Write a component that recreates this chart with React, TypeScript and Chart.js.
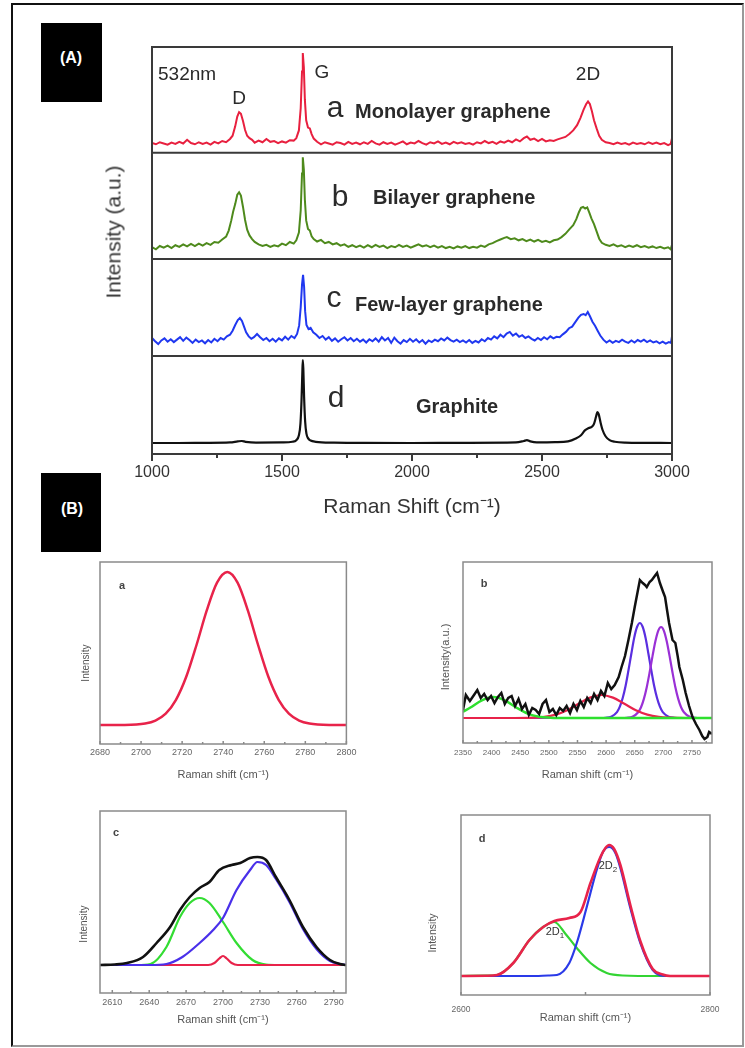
import React, { useEffect, useRef } from "react";
import { Chart, registerables } from "chart.js";
Chart.register(...registerables);

const FONT = '"Liberation Sans", Arial, Helvetica, sans-serif';
Chart.defaults.font.family = FONT;

type Pt = [number, number];

// ---------------- Panel (A): stacked Raman spectra ----------------
const A_MAJOR_TICKS = [1000, 1500, 2000, 2500, 3000];
const A_MINOR_TICKS = [1250, 1750, 2250, 2750];
const A_SEPARATORS = [24.1, 47.9, 74];
const A_OFFSETS = [74, 47.9, 24.1, 0]; // a, b, c, d baselines

const specMonolayer: Pt[] = [
  [1000, 2.4], [1015, 2.1], [1030, 2.6], [1045, 2.3], [1060, 2.0], [1075, 2.5], [1090, 2.2], [1105, 2.7], [1120, 2.3], [1135, 3.2],
  [1150, 2.4], [1165, 2.1], [1180, 2.6], [1195, 2.2], [1210, 2.5], [1225, 2.0], [1240, 2.7], [1255, 2.3], [1270, 2.9], [1285, 2.6],
  [1300, 3.4], [1310, 4.2], [1320, 6.5], [1328, 8.9], [1335, 10.0], [1342, 9.6], [1350, 7.8], [1358, 5.6], [1366, 4.2], [1375, 3.6],
  [1385, 3.2], [1395, 2.5], [1410, 3.0], [1425, 2.6], [1440, 3.4], [1455, 2.7], [1470, 2.9], [1485, 2.4], [1500, 2.8], [1515, 2.5],
  [1530, 3.1], [1545, 3.0], [1555, 3.6], [1565, 5.5], [1572, 11.0], [1577, 20.0], [1580, 24.5], [1584, 21.0], [1588, 13.0], [1593, 8.0],
  [1600, 6.2], [1607, 6.0], [1614, 4.6], [1622, 3.5], [1635, 2.7], [1650, 2.1], [1665, 2.6], [1680, 2.3], [1695, 2.0], [1710, 2.6],
  [1725, 2.4], [1740, 2.0], [1755, 2.7], [1770, 2.2], [1785, 2.5], [1800, 2.1], [1815, 2.6], [1830, 2.2], [1845, 2.9], [1860, 2.3],
  [1875, 2.0], [1890, 2.6], [1905, 2.2], [1920, 2.5], [1935, 2.0], [1950, 2.4], [1965, 2.8], [1980, 2.1], [1995, 2.5], [2010, 2.3],
  [2025, 2.9], [2040, 2.4], [2055, 2.0], [2070, 2.6], [2085, 2.3], [2100, 2.8], [2115, 2.2], [2130, 2.5], [2145, 2.1], [2160, 2.7],
  [2175, 2.3], [2190, 2.6], [2205, 2.2], [2220, 2.4], [2235, 2.0], [2250, 2.6], [2265, 2.3], [2280, 2.9], [2295, 2.4], [2310, 2.7],
  [2325, 2.2], [2340, 2.8], [2355, 2.5], [2370, 3.0], [2385, 2.6], [2400, 3.3], [2415, 2.8], [2430, 3.6], [2442, 4.0], [2455, 3.2],
  [2470, 3.5], [2485, 2.9], [2500, 3.4], [2515, 2.8], [2530, 3.1], [2545, 2.9], [2560, 3.3], [2575, 3.6], [2590, 3.9], [2605, 4.6],
  [2620, 5.5], [2635, 6.8], [2648, 8.6], [2660, 10.6], [2670, 12.0], [2677, 12.6], [2684, 12.0], [2692, 10.2], [2700, 8.0], [2710, 6.0],
  [2720, 4.2], [2730, 3.2], [2745, 2.6], [2760, 2.4], [2775, 2.1], [2790, 2.5], [2805, 2.2], [2820, 2.4], [2835, 2.0], [2850, 2.5],
  [2865, 2.2], [2880, 2.4], [2895, 2.1], [2910, 2.6], [2925, 2.2], [2940, 2.5], [2955, 2.1], [2970, 2.4], [2985, 1.9], [2995, 2.2], [3000, 3.6],
];

const specBilayer: Pt[] = [
  [1000, 2.9], [1015, 2.4], [1030, 3.2], [1045, 2.8], [1060, 3.3], [1075, 2.7], [1090, 3.4], [1105, 3.0], [1120, 3.6], [1135, 3.1],
  [1150, 3.7], [1165, 3.2], [1180, 3.8], [1195, 3.3], [1210, 3.9], [1225, 3.5], [1240, 4.2], [1255, 4.0], [1270, 4.8], [1285, 5.5],
  [1295, 7.0], [1305, 9.5], [1312, 11.6], [1320, 13.5], [1328, 15.8], [1335, 16.4], [1342, 15.6], [1350, 12.8], [1358, 9.6], [1366, 7.2],
  [1375, 5.8], [1385, 4.9], [1395, 4.2], [1410, 3.6], [1425, 3.2], [1440, 3.5], [1455, 3.0], [1470, 3.4], [1485, 3.1], [1500, 3.8],
  [1515, 3.4], [1530, 4.2], [1545, 3.8], [1555, 4.6], [1565, 6.5], [1572, 12.0], [1577, 21.0], [1580, 25.0], [1584, 22.0], [1588, 14.5],
  [1593, 9.5], [1600, 7.4], [1607, 7.0], [1614, 5.6], [1622, 4.9], [1635, 4.3], [1650, 4.7], [1665, 3.9], [1680, 4.2], [1695, 3.6],
  [1710, 3.9], [1725, 3.3], [1740, 3.6], [1755, 3.0], [1770, 3.4], [1785, 2.9], [1800, 3.3], [1815, 2.8], [1830, 3.4], [1845, 2.9],
  [1860, 3.5], [1875, 3.0], [1890, 3.3], [1905, 2.7], [1920, 3.2], [1935, 2.9], [1950, 3.5], [1965, 3.0], [1980, 3.3], [1995, 2.8],
  [2010, 3.2], [2025, 3.6], [2040, 3.1], [2055, 3.4], [2070, 2.9], [2085, 3.3], [2100, 2.8], [2115, 3.2], [2130, 2.7], [2145, 3.0],
  [2160, 2.6], [2175, 3.1], [2190, 2.8], [2205, 3.2], [2220, 2.7], [2235, 3.0], [2250, 2.8], [2265, 3.3], [2280, 3.0], [2295, 3.6],
  [2310, 3.9], [2325, 4.4], [2340, 4.8], [2355, 5.2], [2365, 5.4], [2380, 4.9], [2395, 5.1], [2410, 4.6], [2425, 4.9], [2440, 4.4],
  [2455, 4.8], [2470, 4.3], [2485, 4.7], [2500, 4.2], [2515, 4.5], [2530, 4.1], [2545, 4.6], [2560, 4.8], [2575, 5.4], [2590, 6.2],
  [2605, 7.3], [2620, 8.3], [2632, 9.8], [2642, 11.5], [2650, 12.6], [2658, 12.8], [2666, 12.4], [2674, 12.7], [2682, 11.4], [2690, 10.0],
  [2700, 8.6], [2710, 6.8], [2720, 5.0], [2730, 4.0], [2745, 3.5], [2760, 3.2], [2775, 3.6], [2790, 3.1], [2805, 3.4], [2820, 2.9],
  [2835, 3.3], [2850, 3.0], [2865, 3.4], [2880, 2.9], [2895, 3.2], [2910, 2.8], [2925, 3.1], [2940, 2.7], [2955, 3.0], [2970, 2.6],
  [2985, 2.9], [2995, 2.4], [3000, 3.5],
];

const specFewLayer: Pt[] = [
  [1000, 4.4], [1012, 3.6], [1024, 2.9], [1036, 3.8], [1048, 4.3], [1060, 3.5], [1072, 4.1], [1084, 3.4], [1096, 4.0], [1108, 4.6],
  [1120, 3.7], [1132, 4.5], [1144, 3.9], [1156, 3.2], [1168, 4.0], [1180, 3.4], [1192, 3.8], [1204, 3.1], [1216, 3.9], [1228, 3.3],
  [1240, 4.2], [1252, 3.6], [1264, 4.4], [1276, 4.0], [1288, 4.8], [1300, 5.2], [1310, 6.2], [1320, 7.6], [1330, 8.8], [1338, 9.3],
  [1346, 8.6], [1354, 7.2], [1362, 5.8], [1372, 4.8], [1382, 4.2], [1392, 4.6], [1404, 5.4], [1416, 4.6], [1428, 3.9], [1440, 4.4],
  [1452, 3.6], [1464, 4.2], [1476, 3.5], [1488, 4.3], [1500, 3.8], [1512, 4.7], [1524, 4.0], [1536, 4.9], [1548, 4.4], [1558, 5.4],
  [1566, 7.5], [1572, 12.0], [1577, 17.5], [1581, 19.9], [1585, 17.0], [1589, 11.0], [1594, 7.6], [1602, 6.6], [1610, 6.9], [1620, 5.8],
  [1632, 5.2], [1644, 4.4], [1656, 4.9], [1668, 4.0], [1680, 4.6], [1692, 3.7], [1704, 4.3], [1716, 3.5], [1728, 4.1], [1740, 4.6],
  [1752, 3.8], [1764, 4.4], [1776, 3.6], [1788, 4.2], [1800, 3.5], [1812, 4.0], [1824, 3.3], [1836, 4.1], [1848, 3.6], [1860, 4.3],
  [1872, 3.5], [1884, 4.6], [1896, 3.8], [1908, 4.4], [1920, 3.2], [1932, 4.5], [1944, 3.6], [1956, 3.0], [1968, 3.9], [1980, 3.4],
  [1992, 4.2], [2004, 3.5], [2016, 4.1], [2028, 3.3], [2040, 3.9], [2052, 3.0], [2064, 3.8], [2076, 3.4], [2088, 4.0], [2100, 3.6],
  [2112, 4.3], [2124, 3.8], [2136, 4.5], [2148, 3.9], [2160, 3.5], [2172, 4.0], [2184, 3.4], [2196, 3.8], [2208, 3.3], [2220, 3.9],
  [2232, 3.2], [2244, 3.7], [2256, 3.3], [2268, 4.1], [2280, 3.6], [2292, 4.4], [2304, 4.0], [2316, 4.8], [2328, 4.3], [2340, 5.2],
  [2352, 4.6], [2364, 5.5], [2376, 5.9], [2388, 5.0], [2400, 5.5], [2412, 4.7], [2424, 5.1], [2436, 4.4], [2448, 4.8], [2460, 4.2],
  [2472, 3.8], [2484, 4.4], [2496, 3.9], [2508, 4.6], [2520, 4.1], [2532, 4.8], [2544, 4.3], [2556, 4.7], [2568, 4.6], [2580, 5.3],
  [2592, 5.9], [2604, 6.8], [2616, 7.2], [2628, 8.3], [2640, 9.4], [2650, 10.1], [2660, 10.3], [2668, 10.0], [2676, 10.8], [2684, 9.8],
  [2694, 8.4], [2704, 7.4], [2714, 6.2], [2724, 5.0], [2736, 4.0], [2748, 3.3], [2760, 3.8], [2772, 3.2], [2784, 3.7], [2796, 3.4],
  [2808, 4.0], [2820, 3.5], [2832, 3.2], [2844, 3.8], [2856, 3.3], [2868, 3.9], [2880, 3.5], [2892, 4.0], [2904, 3.4], [2916, 3.8],
  [2928, 3.3], [2940, 3.6], [2952, 3.1], [2964, 3.5], [2976, 3.0], [2988, 3.4], [2996, 3.2], [3000, 4.8],
];

const specGraphite: Pt[] = [
  [1000, 2.7], [1100, 2.7], [1200, 2.75], [1300, 2.85], [1330, 3.1], [1345, 3.2], [1360, 3.0], [1400, 2.8], [1500, 2.85], [1540, 3.0],
  [1555, 3.4], [1565, 4.6], [1571, 7.5], [1575, 13.0], [1578, 19.5], [1580, 23.1], [1582, 21.0], [1585, 14.0], [1589, 8.0], [1594, 5.0],
  [1600, 3.9], [1610, 3.3], [1630, 3.0], [1700, 2.8], [1800, 2.75], [2000, 2.7], [2200, 2.75], [2400, 2.85], [2430, 3.2], [2442, 3.4],
  [2455, 3.1], [2480, 2.85], [2550, 2.9], [2600, 3.1], [2630, 3.8], [2650, 4.6], [2665, 5.8], [2680, 6.4], [2692, 6.7], [2700, 7.4],
  [2708, 9.2], [2713, 10.3], [2718, 9.8], [2725, 7.8], [2733, 5.9], [2745, 4.3], [2760, 3.4], [2780, 3.0], [2820, 2.8], [3000, 2.7],
];

// ---------------- Panel (B)a: monolayer 2D fit ----------------
const Ba_MAJOR = [2680, 2700, 2720, 2740, 2760, 2780, 2800];
const Ba_MINOR = [2690, 2710, 2730, 2750, 2770, 2790];
const fitMono: Pt[] = [
  [2680, 0], [2692, 0.1], [2702, 1.5], [2707, 4.4], [2712, 11.3], [2717, 25.2], [2722, 48.2], [2727, 80], [2732, 114.6], [2737, 142.3],
  [2742, 153], [2747, 142.3], [2752, 114.6], [2757, 80], [2762, 48.2], [2767, 25.2], [2772, 11.3], [2777, 4.4], [2782, 1.5], [2792, 0.1], [2800, 0],
];

// ---------------- Panel (B)b: bilayer 2D fit ----------------
const Bb_MAJOR = [2350, 2400, 2450, 2500, 2550, 2600, 2650, 2700, 2750];
const Bb_MINOR = [2375, 2425, 2475, 2525, 2575, 2625, 2675, 2725, 2775];
const biData: Pt[] = [
  [2350, 8], [2355, 23], [2362, 17], [2368, 22], [2375, 28], [2381, 20], [2387, 24], [2393, 18], [2399, 22], [2405, 15],
  [2411, 21], [2417, 25], [2423, 14], [2429, 20], [2435, 22], [2441, 12], [2447, 19], [2453, 9], [2459, 14], [2465, 3],
  [2471, 10], [2477, 8], [2483, 4], [2489, 14], [2495, 18], [2501, 6], [2507, 9], [2513, 3], [2519, 10], [2525, 7],
  [2531, 12], [2537, 5], [2543, 14], [2549, 8], [2555, 17], [2561, 11], [2567, 20], [2573, 15], [2579, 24], [2585, 18],
  [2591, 27], [2597, 22], [2603, 35], [2609, 29], [2615, 33], [2622, 41], [2627, 51], [2633, 62], [2639, 78], [2645, 95],
  [2650, 111], [2655, 126], [2659, 138], [2664, 135], [2668, 133], [2671, 131], [2676, 136], [2680, 138], [2685, 142], [2689, 145],
  [2694, 135], [2699, 127], [2703, 121], [2707, 106], [2710, 95], [2716, 78], [2721, 75], [2725, 62], [2728, 51], [2734, 38],
  [2739, 25], [2745, 12], [2751, 1], [2757, -6], [2763, -12], [2768, -18], [2772, -21], [2777, -19], [2780, -14], [2785, -16],
];
const biFitLow: Pt[] = [
  [2350, 0], [2590, 0], [2599, 0.2], [2609, 1.3], [2619, 5.9], [2624, 11.3], [2629, 20], [2634, 32], [2639, 47.5], [2644, 64],
  [2649, 80], [2654, 91], [2659, 95], [2664, 91], [2669, 80], [2674, 64], [2679, 47.5], [2684, 32], [2689, 20], [2694, 11.3],
  [2699, 5.9], [2709, 1.3], [2719, 0.2], [2730, 0], [2785, 0],
];
const biFitHigh: Pt[] = [
  [2350, 0], [2626, 0], [2636, 0.2], [2646, 1.2], [2656, 5.7], [2661, 10.8], [2666, 19.1], [2671, 30.8], [2676, 45.5], [2681, 61.6],
  [2686, 76.5], [2691, 87.2], [2696, 91], [2701, 87.2], [2706, 76.5], [2711, 61.6], [2716, 45.5], [2721, 30.8], [2726, 19.1], [2731, 10.8],
  [2736, 5.7], [2746, 1.2], [2756, 0.2], [2766, 0], [2785, 0],
];
const biFitBroad: Pt[] = [
  [2350, 0], [2440, 0], [2472, 0.3], [2492, 1.1], [2512, 3.4], [2532, 7.8], [2552, 14.2], [2572, 20.4], [2592, 23], [2612, 20.4],
  [2632, 14.2], [2652, 7.8], [2672, 3.4], [2692, 1.1], [2712, 0.3], [2740, 0], [2785, 0],
];
const biFitLeft: Pt[] = [
  [2350, 6.2], [2363, 10.5], [2383, 17.7], [2403, 21], [2423, 17.7], [2443, 10.5], [2463, 4.4], [2483, 1.3], [2503, 0.3], [2530, 0], [2785, 0],
];

// ---------------- Panel (B)c: few-layer 2D fit ----------------
const Bc_MAJOR = [2610, 2640, 2670, 2700, 2730, 2760, 2790];
const Bc_MINOR = [2625, 2655, 2685, 2715, 2745, 2775];
const fewSum: Pt[] = [
  [2600, 0], [2612, 0.5], [2622, 2], [2635, 8], [2646, 22], [2657, 38], [2665, 55], [2673, 68], [2681, 77], [2689, 83],
  [2697, 95], [2707, 100], [2714, 102], [2722, 107], [2728, 108], [2735, 105], [2743, 88], [2754, 65], [2765, 38], [2776, 18],
  [2787, 5], [2795, 1], [2800, 0],
];
const fewHigh: Pt[] = [
  [2600, 0], [2640, 0], [2654, 1], [2667, 8], [2681, 22], [2692, 35], [2700, 47], [2711, 75], [2722, 95], [2728, 103],
  [2735, 100], [2743, 86], [2754, 63], [2765, 36], [2776, 16], [2787, 4], [2795, 1], [2800, 0],
];
const fewLow: Pt[] = [
  [2600, 0], [2630, 0], [2641, 1], [2654, 18], [2665, 48], [2673, 62], [2681, 67], [2689, 62], [2700, 43], [2711, 22],
  [2724, 5], [2735, 0.5], [2745, 0], [2800, 0],
];
const fewMid: Pt[] = [
  [2600, 0], [2688, 0], [2693, 2], [2697, 6.5], [2700, 9], [2703, 6.5], [2707, 2], [2712, 0], [2800, 0],
];

// ---------------- Panel (B)d: graphite 2D fit ----------------
const Bd_MAJOR = [2600, 2700, 2800];
const Bd_LABELED = [2600, 2800];
const grSum: Pt[] = [
  [2600, 0], [2620, 0.3], [2629, 1], [2642, 13], [2655, 36], [2666, 49], [2675, 55], [2687, 58], [2696, 64], [2704, 93],
  [2712, 119], [2716, 128], [2719, 131], [2723, 127], [2728, 111], [2736, 71], [2744, 35], [2754, 7], [2762, 1.5], [2768, 0], [2800, 0],
];
const gr2D2: Pt[] = [
  [2600, 0], [2660, 0], [2670, 0.5], [2677, 1], [2687, 13], [2693, 33], [2701, 69], [2709, 106], [2714, 124], [2719, 129],
  [2724, 123], [2728, 108], [2736, 68], [2744, 33], [2754, 6], [2765, 0], [2800, 0],
];
const gr2D1: Pt[] = [
  [2600, 0], [2620, 0.3], [2629, 1], [2642, 13], [2655, 36], [2666, 49], [2675, 54], [2684, 42], [2693, 28], [2704, 13],
  [2717, 3], [2730, 0.5], [2760, 0], [2800, 0],
];

// ---------------- helpers ----------------
function line(pts: Pt[], color: string, width: number, offset = 0, smooth = false) {
  return {
    data: pts.map(([x, y]) => ({ x, y: y + offset })),
    borderColor: color,
    borderWidth: width,
    pointRadius: 0,
    fill: false,
    tension: 0,
    cubicInterpolationMode: smooth ? "monotone" : "default",
  };
}

type Spec = {
  box: { left: number; top: number; width: number; height: number };
  padLeft: number; padTop: number; padRight: number; axisHeight: number;
  xMin: number; xMax: number; yMin: number; yMax: number;
  major: number[]; labeled: number[]; minor: number[];
  tickSize: number; tickColor: string; tickPad: number;
  title: string; titleSize: number; titleColor: string; titlePad: number;
  frameColor: string; frameWidth: number; majorLen: number; minorLen: number; tickDir: number;
  datasets: any[];
};

const RED = "#e8203f";
const GREEN_A = "#4e8a1c";
const BLUE_A = "#2038f0";
const BLACK = "#111111";

const SPEC_A: Spec = {
  box: { left: 90, top: 30, width: 620, height: 500 },
  padLeft: 62, padTop: 17, padRight: 38, axisHeight: 76,
  xMin: 1000, xMax: 3000, yMin: 0, yMax: 100,
  major: A_MAJOR_TICKS, labeled: A_MAJOR_TICKS, minor: A_MINOR_TICKS,
  tickSize: 16, tickColor: "#333", tickPad: 9.4,
  title: "Raman Shift (cm\u207B\u00B9)", titleSize: 21, titleColor: "#333", titlePad: 10.4,
  frameColor: "#3a3a3a", frameWidth: 2, majorLen: 7, minorLen: 4, tickDir: 1,
  datasets: [
    line(specMonolayer, RED, 2, A_OFFSETS[0]),
    line(specBilayer, GREEN_A, 2, A_OFFSETS[1]),
    line(specFewLayer, BLUE_A, 2, A_OFFSETS[2]),
    line(specGraphite, BLACK, 2.2, A_OFFSETS[3], true),
    ...A_SEPARATORS.map((y) => line([[1000, 0], [3000, 0]], "#3a3a3a", 2, y)),
  ],
};

const B_COMMON = {
  tickColor: "#666", titleColor: "#555", titleSize: 11,
  frameColor: "#8a8a8a", frameWidth: 1.5, majorLen: 3, minorLen: 2, tickDir: -1,
};

const SPEC_BA: Spec = {
  ...B_COMMON,
  box: { left: 60, top: 550, width: 300, height: 235 },
  padLeft: 40, padTop: 12, padRight: 12, axisHeight: 41,
  xMin: 2680, xMax: 2800, yMin: -19, yMax: 163,
  major: Ba_MAJOR, labeled: Ba_MAJOR, minor: Ba_MINOR,
  tickSize: 9, tickPad: 3.6, title: "Raman shift (cm\u207B\u00B9)", titlePad: 3.4,
  datasets: [line(fitMono, "#e8234a", 2.5, 0, true)],
};

const SPEC_BB: Spec = {
  ...B_COMMON,
  box: { left: 425, top: 550, width: 310, height: 235 },
  padLeft: 38, padTop: 12, padRight: 23, axisHeight: 42,
  xMin: 2350, xMax: 2785, yMin: -25, yMax: 156,
  major: Bb_MAJOR, labeled: Bb_MAJOR, minor: Bb_MINOR,
  tickSize: 8, tickPad: 5.2, title: "Raman shift (cm\u207B\u00B9)", titlePad: 3.4,
  datasets: [
    line(biData, "#111", 2.5),
    line(biFitLeft, "#2ee02e", 2.5, 0, true),
    line(biFitBroad, "#e8234a", 2.2, 0, true),
    line(biFitHigh, "#9a30d6", 2.2, 0, true),
    line(biFitLow, "#5a2ee0", 2.2, 0, true),
  ],
};

const SPEC_BC: Spec = {
  ...B_COMMON,
  box: { left: 60, top: 800, width: 300, height: 235 },
  padLeft: 40, padTop: 11, padRight: 14, axisHeight: 42,
  xMin: 2600, xMax: 2800, yMin: -28, yMax: 154,
  major: Bc_MAJOR, labeled: Bc_MAJOR, minor: Bc_MINOR,
  tickSize: 9, tickPad: 4.6, title: "Raman shift (cm\u207B\u00B9)", titlePad: 8.4,
  datasets: [
    line(fewSum, "#111", 2.6, 0, true),
    line(fewHigh, "#4a30ea", 2.2, 0, true),
    line(fewMid, "#e8234a", 2.2, 0, true),
    line(fewLow, "#33dd33", 2.2, 0, true),
  ],
};

const SPEC_BD: Spec = {
  ...B_COMMON,
  box: { left: 420, top: 800, width: 310, height: 240 },
  padLeft: 41, padTop: 15, padRight: 20, axisHeight: 45,
  xMin: 2600, xMax: 2800, yMin: -19, yMax: 161,
  major: Bd_MAJOR, labeled: Bd_LABELED, minor: [],
  tickSize: 8.5, tickPad: 9.9, title: "Raman shift (cm\u207B\u00B9)", titlePad: 15.4,
  datasets: [
    line(grSum, "#e8234a", 2.6, 0, true),
    line(gr2D2, "#2a3ae8", 2.2, 0, true),
    line(gr2D1, "#33d433", 2.2, 0, true),
  ],
};

function Plot({ spec }: { spec: Spec }) {
  const ref = useRef<HTMLCanvasElement>(null);
  useEffect(() => {
    const s = spec;
    const frame = {
      id: "frameTicks",
      afterDraw(chart: any) {
        const { ctx, chartArea: a, scales } = chart;
        const xs = scales.x;
        ctx.save();
        ctx.strokeStyle = s.frameColor;
        ctx.lineWidth = s.frameWidth;
        ctx.strokeRect(a.left, a.top, a.right - a.left, a.bottom - a.top);
        const mark = (v: number, len: number) => {
          const px = xs.getPixelForValue(v);
          ctx.beginPath();
          ctx.moveTo(px, a.bottom);
          ctx.lineTo(px, a.bottom + s.tickDir * len);
          ctx.stroke();
        };
        s.major.forEach((v) => mark(v, s.majorLen));
        s.minor.forEach((v) => mark(v, s.minorLen));
        ctx.restore();
      },
    };
    const chart = new Chart(ref.current as HTMLCanvasElement, {
      type: "line",
      data: { datasets: s.datasets as any },
      options: {
        responsive: false,
        maintainAspectRatio: false,
        animation: false,
        layout: { padding: { left: s.padLeft, top: s.padTop, right: s.padRight, bottom: 0 } },
        plugins: { legend: { display: false }, tooltip: { enabled: false } },
        elements: { point: { radius: 0 } },
        scales: {
          x: {
            type: "linear",
            min: s.xMin,
            max: s.xMax,
            afterBuildTicks: (sc: any) => {
              sc.ticks = s.major.map((v) => ({ value: v }));
            },
            afterFit: (sc: any) => {
              sc.height = s.axisHeight;
            },
            grid: { display: false, drawTicks: false },
            border: { display: false },
            ticks: {
              autoSkip: false,
              maxRotation: 0,
              minRotation: 0,
              padding: s.tickPad,
              color: s.tickColor,
              font: { family: FONT, size: s.tickSize, lineHeight: 1.2 },
              callback: (v: any) => (s.labeled.includes(Number(v)) ? String(v) : ""),
            },
            title: {
              display: true,
              text: s.title,
              color: s.titleColor,
              font: { family: FONT, size: s.titleSize, lineHeight: 1.2 },
              padding: { top: 0, bottom: s.titlePad },
            },
          },
          y: { type: "linear", display: false, min: s.yMin, max: s.yMax },
        },
      } as any,
      plugins: [frame],
    });
    return () => chart.destroy();
  }, [spec]);
  const b = spec.box;
  return (
    <div style={{ position: "absolute", left: b.left, top: b.top, width: b.width, height: b.height }}>
      <canvas ref={ref} width={b.width} height={b.height} style={{ width: b.width, height: b.height, display: "block" }} />
    </div>
  );
}

function Txt(props: {
  x: number; y: number; size: number; children: React.ReactNode;
  bold?: boolean; color?: string; anchor?: "left" | "center"; rotate?: boolean;
}) {
  const { x, y, size, bold, color, anchor, rotate } = props;
  const tf = rotate
    ? "translate(-50%, -50%) rotate(-90deg)"
    : anchor === "left"
    ? "translate(0, -50%)"
    : "translate(-50%, -50%)";
  return (
    <div
      style={{
        position: "absolute", left: x, top: y, transform: tf, fontFamily: FONT, fontSize: size,
        fontWeight: bold ? 700 : 400, color: color || "#2a2a2a", lineHeight: 1, whiteSpace: "nowrap",
      }}
    >
      {props.children}
    </div>
  );
}

export default function App() {
  return (
    <div style={{ position: "absolute", left: 0, top: 0, width: 745, height: 1048, background: "#fff", overflow: "hidden" }}>
      <div
        style={{
          position: "absolute", left: 11, top: 3, width: 733, height: 1044, boxSizing: "border-box",
          borderLeft: "2px solid #111", borderTop: "2px solid #111", borderRight: "2px solid #999", borderBottom: "2px solid #999",
        }}
      />
      {/* Panel labels */}
      <div style={{ position: "absolute", left: 41, top: 23, width: 61, height: 79, background: "#000" }} />
      <Txt x={71} y={58} size={16} bold color="#fff">(A)</Txt>
      <div style={{ position: "absolute", left: 41, top: 473, width: 60, height: 79, background: "#000" }} />
      <Txt x={72} y={509} size={16} bold color="#fff">(B)</Txt>

      <Plot spec={SPEC_A} />
      <Txt x={113} y={232} size={21} rotate color="#333">Intensity (a.u.)</Txt>
      <Txt x={158} y={73} size={19} anchor="left">532nm</Txt>
      <Txt x={239} y={97} size={19}>D</Txt>
      <Txt x={322} y={71} size={19}>G</Txt>
      <Txt x={588} y={73} size={19}>2D</Txt>
      <Txt x={335} y={107} size={30}>a</Txt>
      <Txt x={355} y={111} size={20} bold anchor="left">Monolayer graphene</Txt>
      <Txt x={340} y={196} size={30}>b</Txt>
      <Txt x={373} y={197} size={20} bold anchor="left">Bilayer graphene</Txt>
      <Txt x={334} y={297} size={30}>c</Txt>
      <Txt x={355} y={304} size={20} bold anchor="left">Few-layer graphene</Txt>
      <Txt x={336} y={397} size={30}>d</Txt>
      <Txt x={416} y={406} size={20} bold anchor="left">Graphite</Txt>

      <Plot spec={SPEC_BA} />
      <Txt x={86} y={663} size={10} rotate color="#555">Intensity</Txt>
      <Txt x={122} y={585} size={11} bold color="#444">a</Txt>

      <Plot spec={SPEC_BB} />
      <Txt x={445} y={657} size={11} rotate color="#555">Intensity(a.u.)</Txt>
      <Txt x={484} y={583} size={11} bold color="#444">b</Txt>

      <Plot spec={SPEC_BC} />
      <Txt x={84} y={924} size={10} rotate color="#555">Intensity</Txt>
      <Txt x={116} y={832} size={11} bold color="#444">c</Txt>

      <Plot spec={SPEC_BD} />
      <Txt x={432} y={933} size={10.5} rotate color="#555">Intensity</Txt>
      <Txt x={482} y={838} size={11} bold color="#444">d</Txt>
      <Txt x={555} y={933} size={11} color="#333">2D<sub style={{ fontSize: 8 }}>1</sub></Txt>
      <Txt x={608} y={867} size={11} color="#333">2D<sub style={{ fontSize: 8 }}>2</sub></Txt>
    </div>
  );
}
